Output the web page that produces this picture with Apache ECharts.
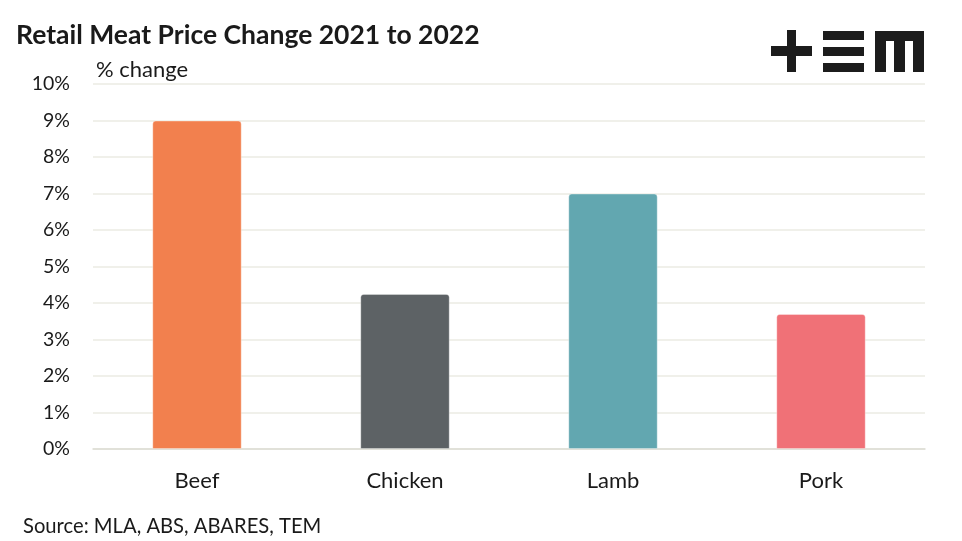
<!DOCTYPE html>
<html><head><meta charset="utf-8">
<script src="https://cdn.jsdelivr.net/npm/echarts@6/dist/echarts.min.js"></script>
<style>html,body{margin:0;padding:0;background:#fff}#c{width:962px;height:541px}</style>
</head><body><div id="c"></div>
<script>
const categories = ['Beef', 'Chicken', 'Lamb', 'Pork'];
const values = [9.0, 4.25, 7.0, 3.7];
const barColors = ['#F2804E', '#5D6265', '#62A7B0', '#F07177'];
const yTicks = [0, 1, 2, 3, 4, 5, 6, 7, 8, 9, 10];

const FONT = 'Lato, "Open Sans", sans-serif';
const chart = echarts.init(document.getElementById('c'));
const logo = '#1c1c1c';
chart.setOption({
  animation: false,
  title: [
    { text: 'Retail Meat Price Change 2021 to 2022', left: 11, top: 17,
      textStyle: { fontFamily: FONT, fontSize: 26.5, fontWeight: 'bold', color: '#1a1a1a' } },
    { text: 'Source: MLA, ABS, ABARES, TEM', left: 18, top: 511,
      textStyle: { fontFamily: FONT, fontSize: 20.2, fontWeight: 'normal', color: '#1a1a1a' } }
  ],
  graphic: [
    { type: 'text', left: 96, top: 59, style: { text: '% change', font: '22px ' + FONT, fill: '#1a1a1a' } },
    { type: 'rect', shape: { x: 771, y: 46, width: 41, height: 10 }, style: { fill: logo } },
    { type: 'rect', shape: { x: 787, y: 30, width: 9, height: 42 }, style: { fill: logo } },
    { type: 'rect', shape: { x: 823, y: 31, width: 41, height: 9 }, style: { fill: logo } },
    { type: 'rect', shape: { x: 823, y: 47, width: 41, height: 9 }, style: { fill: logo } },
    { type: 'rect', shape: { x: 823, y: 63, width: 41, height: 9 }, style: { fill: logo } },
    { type: 'rect', shape: { x: 875, y: 31, width: 49, height: 10 }, style: { fill: logo } },
    { type: 'rect', shape: { x: 875, y: 31, width: 11, height: 41 }, style: { fill: logo } },
    { type: 'rect', shape: { x: 894, y: 31, width: 11, height: 41 }, style: { fill: logo } },
    { type: 'rect', shape: { x: 913, y: 31, width: 11, height: 41 }, style: { fill: logo } }
  ],
  grid: { left: 93, right: 37, top: 84, bottom: 92, containLabel: false },
  xAxis: {
    type: 'category', data: categories,
    axisLine: { show: true, lineStyle: { color: '#dcdcd4', width: 1.5 } },
    axisTick: { show: false },
    axisLabel: { fontFamily: FONT, fontSize: 22, color: '#1a1a1a', margin: 21 }
  },
  yAxis: {
    type: 'value', min: yTicks[0], max: yTicks[yTicks.length - 1], interval: 1,
    axisLine: { show: false }, axisTick: { show: false },
    splitLine: { lineStyle: { color: '#ebebe3', width: 1.5 } },
    axisLabel: { fontFamily: FONT, fontSize: 19.5, color: '#1a1a1a', margin: 23,
      formatter: v => v + '%' }
  },
  series: [{
    type: 'bar', barWidth: '43%',
    data: values.map((v, i) => ({ value: v,
      itemStyle: { color: barColors[i], borderRadius: [3, 3, 0, 0],
        borderColor: 'rgba(255,255,255,0.35)', borderWidth: 1 } }))
  }]
});
</script></body></html>
